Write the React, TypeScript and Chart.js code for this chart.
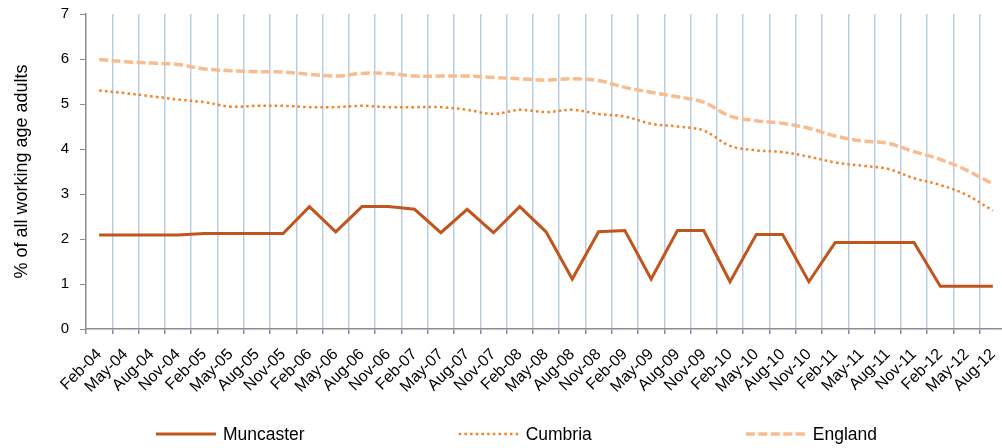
import React, { useEffect, useRef } from 'react';
import { Chart, registerables } from 'chart.js';

Chart.register(...registerables);

const categories = [
  'Feb-04', 'May-04', 'Aug-04', 'Nov-04',
  'Feb-05', 'May-05', 'Aug-05', 'Nov-05',
  'Feb-06', 'May-06', 'Aug-06', 'Nov-06',
  'Feb-07', 'May-07', 'Aug-07', 'Nov-07',
  'Feb-08', 'May-08', 'Aug-08', 'Nov-08',
  'Feb-09', 'May-09', 'Aug-09', 'Nov-09',
  'Feb-10', 'May-10', 'Aug-10', 'Nov-10',
  'Feb-11', 'May-11', 'Aug-11', 'Nov-11',
  'Feb-12', 'May-12', 'Aug-12',
];

const muncaster = [
  2.09, 2.09, 2.09, 2.09,
  2.12, 2.12, 2.12, 2.12,
  2.72, 2.16, 2.72, 2.72,
  2.66, 2.14, 2.66, 2.14,
  2.72, 2.16, 1.11, 2.16,
  2.19, 1.11, 2.19, 2.19,
  1.05, 2.10, 2.10, 1.05,
  1.92, 1.92, 1.92, 1.92,
  0.95, 0.95, 0.95,
];

const cumbria = [
  5.30, 5.24, 5.17, 5.10,
  5.04, 4.94, 4.96, 4.96,
  4.93, 4.93, 4.96, 4.93,
  4.93, 4.93, 4.87, 4.78,
  4.87, 4.82, 4.87, 4.78,
  4.72, 4.56, 4.50, 4.41,
  4.07, 3.97, 3.93, 3.83,
  3.70, 3.63, 3.56, 3.35,
  3.20, 2.98, 2.63,
];

const england = [
  5.99, 5.94, 5.91, 5.88,
  5.78, 5.74, 5.72, 5.71,
  5.66, 5.62, 5.68, 5.68,
  5.62, 5.62, 5.62, 5.59,
  5.56, 5.53, 5.56, 5.52,
  5.37, 5.26, 5.16, 5.04,
  4.73, 4.63, 4.57, 4.46,
  4.29, 4.18, 4.13, 3.94,
  3.77, 3.53, 3.22,
];

const seriesNames = ['Muncaster', 'Cumbria', 'England'];
const yAxisTitle = '% of all working age adults';
const yMin = 0;
const yMax = 7;
const yStep = 1;

const FONT = "'Liberation Sans', Arial, sans-serif";
const CANVAS_W = 1006;
const CANVAS_H = 448;

const customLegend = {
  id: 'customLegend',
  afterDraw(chart: any) {
    const ctx = chart.ctx;
    const datasets = chart.data.datasets;
    const lineLen = 60;
    const gap = 7;
    const spacing = 154;
    ctx.save();
    ctx.font = `17.5px ${FONT}`;
    const widths = datasets.map((d: any) => lineLen + gap + ctx.measureText(d.label).width);
    const total = widths.reduce((a: number, b: number) => a + b, 0) + spacing * (datasets.length - 1);
    const centerX = 516.5;
    let x = centerX - total / 2;
    const y = 434;
    datasets.forEach((d: any, i: number) => {
      ctx.beginPath();
      ctx.setLineDash(d.borderDash || []);
      ctx.lineWidth = d.borderWidth;
      ctx.strokeStyle = d.borderColor;
      ctx.lineCap = 'butt';
      ctx.moveTo(x, y);
      ctx.lineTo(x + lineLen, y);
      ctx.stroke();
      ctx.setLineDash([]);
      ctx.fillStyle = '#000';
      ctx.textAlign = 'left';
      ctx.textBaseline = 'middle';
      ctx.fillText(d.label, x + lineLen + gap, y + 1);
      x += widths[i] + spacing;
    });
    ctx.restore();
  },
};

export default function App() {
  const canvasRef = useRef<HTMLCanvasElement | null>(null);

  useEffect(() => {
    document.body.style.overflow = 'hidden';
    const canvas = canvasRef.current;
    if (!canvas) return;
    const chart = new Chart(canvas, {
      type: 'line',
      data: {
        labels: categories,
        datasets: [
          {
            label: seriesNames[0],
            data: muncaster,
            borderColor: '#C0561E',
            backgroundColor: '#C0561E',
            borderWidth: 3,
            pointRadius: 0,
            tension: 0,
            order: 1,
          },
          {
            label: seriesNames[1],
            data: cumbria,
            borderColor: '#F5821F',
            backgroundColor: '#F5821F',
            borderWidth: 2.5,
            borderDash: [2.5, 3.2],
            pointRadius: 0,
            tension: 0.35,
            order: 2,
          },
          {
            label: seriesNames[2],
            data: england,
            borderColor: '#F9BC8E',
            backgroundColor: '#F9BC8E',
            borderWidth: 3.5,
            borderDash: [9, 3.5],
            pointRadius: 0,
            tension: 0.35,
            order: 3,
          },
        ],
      },
      options: {
        responsive: false,
        animation: false,
        layout: { padding: { top: 14, right: 0, bottom: 0, left: 0 } },
        plugins: {
          legend: { display: false },
          tooltip: { enabled: false },
        },
        scales: {
          x: {
            offset: true,
            afterFit: (scale: any) => {
              scale.height = 119;
              scale.paddingLeft = 0;
              scale.paddingRight = 0;
            },
            grid: {
              offset: true,
              display: true,
              drawOnChartArea: true,
              color: (c: any) => (c.index === 0 ? 'rgba(0,0,0,0)' : '#B9CDE5'),
              lineWidth: 1.5,
              tickColor: '#8C8C8C',
              tickLength: 5,
            },
            border: { display: true, color: '#8C8C8C', width: 1.5 },
            ticks: {
              autoSkip: false,
              maxRotation: 45,
              minRotation: 45,
              padding: 11,
              color: '#000',
              font: { family: FONT, size: 16 },
            },
          },
          y: {
            min: yMin,
            max: yMax,
            afterFit: (scale: any) => {
              scale.width = 86;
              scale.paddingTop = 0;
              scale.paddingBottom = 0;
            },
            grid: {
              display: true,
              drawOnChartArea: false,
              tickColor: '#8C8C8C',
              tickLength: 6,
            },
            border: { display: true, color: '#8C8C8C', width: 1.5 },
            ticks: {
              stepSize: yStep,
              padding: 11,
              color: '#000',
              font: { family: FONT, size: 15 },
            },
            title: {
              display: true,
              text: yAxisTitle,
              color: '#000',
              font: { family: FONT, size: 18 },
              padding: { top: 11, bottom: 0 },
            },
          },
        },
      },
      plugins: [customLegend],
    });
    return () => chart.destroy();
  }, []);

  return (
    <div style={{ position: 'fixed', left: 0, top: 0, width: CANVAS_W, height: CANVAS_H, background: '#fff' }}>
      <canvas ref={canvasRef} width={CANVAS_W} height={CANVAS_H} style={{ display: 'block' }} />
    </div>
  );
}
